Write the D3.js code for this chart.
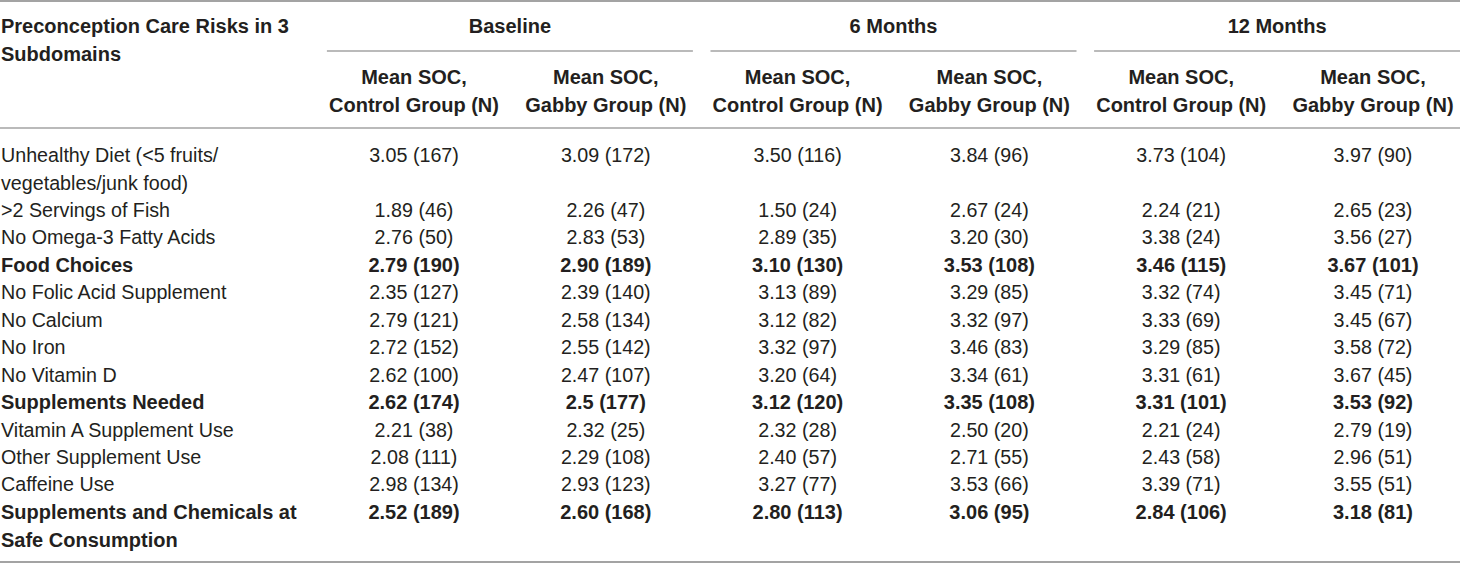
<!DOCTYPE html>
<html>
<head>
<meta charset="utf-8">
<script src="https://cdn.jsdelivr.net/npm/d3@7"></script>
<style>
  html, body { margin: 0; padding: 0; background: #ffffff; }
  svg { display: block; }
  text { font-family: "Liberation Sans", Arial, Helvetica, sans-serif; fill: #231f20; }
</style>
</head>
<body>
<svg id="chart" width="1460" height="563"></svg>
<script>
// ---- data ----
const stubHeader = ["Preconception Care Risks in 3", "Subdomains"];
const periods = ["Baseline", "6 Months", "12 Months"];
const subHeaders = [
  ["Mean SOC,", "Control Group (N)"],
  ["Mean SOC,", "Gabby Group (N)"]
];
const rowLabels = [
  ["Unhealthy Diet (<5 fruits/", "vegetables/junk food)"],
  [">2 Servings of Fish"],
  ["No Omega-3 Fatty Acids"],
  ["Food Choices"],
  ["No Folic Acid Supplement"],
  ["No Calcium"],
  ["No Iron"],
  ["No Vitamin D"],
  ["Supplements Needed"],
  ["Vitamin A Supplement Use"],
  ["Other Supplement Use"],
  ["Caffeine Use"],
  ["Supplements and Chemicals at", "Safe Consumption"]
];
const boldRows = [3, 8, 12];
// mean SOC (as printed) and N, per column
const baselineControlMean = ["3.05","1.89","2.76","2.79","2.35","2.79","2.72","2.62","2.62","2.21","2.08","2.98","2.52"];
const baselineControlN    = [167,46,50,190,127,121,152,100,174,38,111,134,189];
const baselineGabbyMean   = ["3.09","2.26","2.83","2.90","2.39","2.58","2.55","2.47","2.5","2.32","2.29","2.93","2.60"];
const baselineGabbyN      = [172,47,53,189,140,134,142,107,177,25,108,123,168];
const m6ControlMean       = ["3.50","1.50","2.89","3.10","3.13","3.12","3.32","3.20","3.12","2.32","2.40","3.27","2.80"];
const m6ControlN          = [116,24,35,130,89,82,97,64,120,28,57,77,113];
const m6GabbyMean         = ["3.84","2.67","3.20","3.53","3.29","3.32","3.46","3.34","3.35","2.50","2.71","3.53","3.06"];
const m6GabbyN            = [96,24,30,108,85,97,83,61,108,20,55,66,95];
const m12ControlMean      = ["3.73","2.24","3.38","3.46","3.32","3.33","3.29","3.31","3.31","2.21","2.43","3.39","2.84"];
const m12ControlN         = [104,21,24,115,74,69,85,61,101,24,58,71,106];
const m12GabbyMean        = ["3.97","2.65","3.56","3.67","3.45","3.45","3.58","3.67","3.53","2.79","2.96","3.55","3.18"];
const m12GabbyN           = [90,23,27,101,71,67,72,45,92,19,51,51,81];

const columns = [
  [baselineControlMean, baselineControlN],
  [baselineGabbyMean, baselineGabbyN],
  [m6ControlMean, m6ControlN],
  [m6GabbyMean, m6GabbyN],
  [m12ControlMean, m12ControlN],
  [m12GabbyMean, m12GabbyN]
];

// ---- layout ----
const W = 1460, H = 563;
const FS = 19.7, FSB = 20;
const lineColor = "#a3a3a3";
const svg = d3.select("#chart");

const colX = d3.scaleLinear().domain([0, 5]).range([414, 1373]);
const halfGroup = 183;
// body line index -> y center
const bodyY = d3.scaleLinear().domain([0, 14]).range([155, 539.3]);
const headY = d3.scaleLinear().domain([0, 1]).range([26, 54]);
const subY = d3.scaleLinear().domain([0, 1]).range([77, 105]);

function hline(x1, x2, y, w) {
  svg.append("line")
    .attr("x1", x1).attr("x2", x2).attr("y1", y).attr("y2", y)
    .attr("stroke", lineColor).attr("stroke-width", w);
}

// rules
hline(0, W, 1, 2);
hline(0, W, 128, 1.3);
hline(0, W, 562, 2);

// stub header
stubHeader.forEach((t, i) => {
  svg.append("text").attr("x", 1).attr("y", headY(i)).attr("dy", "0.36em")
    .attr("font-size", FSB).attr("font-weight", "bold").text(t);
});

// period headers + underline
periods.forEach((p, g) => {
  const cx = (colX(2 * g) + colX(2 * g + 1)) / 2;
  svg.append("text").attr("x", cx).attr("y", headY(0)).attr("dy", "0.36em")
    .attr("text-anchor", "middle").attr("font-size", FSB).attr("font-weight", "bold").text(p);
  hline(cx - halfGroup, Math.min(W, cx + halfGroup), 51, 1.3);
});

// sub headers
d3.range(6).forEach(c => {
  subHeaders[c % 2].forEach((t, i) => {
    svg.append("text").attr("x", colX(c)).attr("y", subY(i)).attr("dy", "0.36em")
      .attr("text-anchor", "middle").attr("font-size", FSB).attr("font-weight", "bold").text(t);
  });
});

// body
let line = 0;
rowLabels.forEach((lbl, r) => {
  const bold = boldRows.includes(r);
  lbl.forEach((t, i) => {
    svg.append("text").attr("x", 1).attr("y", bodyY(line + i)).attr("dy", "0.36em")
      .attr("font-size", bold ? FSB : FS).attr("font-weight", bold ? "bold" : "normal").text(t);
  });
  columns.forEach((col, c) => {
    svg.append("text").attr("x", colX(c)).attr("y", bodyY(line)).attr("dy", "0.36em")
      .attr("text-anchor", "middle").attr("font-size", bold ? FSB : FS)
      .attr("font-weight", bold ? "bold" : "normal")
      .text(`${col[0][r]} (${col[1][r]})`);
  });
  line += lbl.length;
});
</script>
</body>
</html>
